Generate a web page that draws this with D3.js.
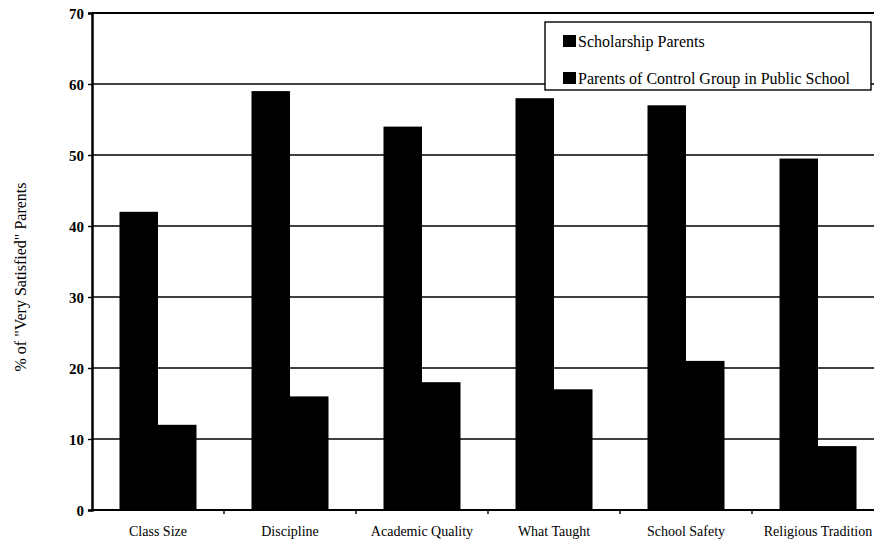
<!DOCTYPE html>
<html>
<head>
<meta charset="utf-8">
<script src="https://cdn.jsdelivr.net/npm/d3@7"></script>
<style>
  html, body { margin: 0; padding: 0; background: #fff; }
  svg { display: block; }
  text { font-family: "Liberation Serif", "Times New Roman", serif; fill: #000; }
</style>
</head>
<body>
<svg id="chart" width="874" height="543"></svg>
<script>
// Share of parents reporting they are "very satisfied", by school aspect
const categories = ["Class Size", "Discipline", "Academic Quality", "What Taught", "School Safety", "Religious Tradition"];
const seriesNames = ["Scholarship Parents", "Parents of Control Group in Public School"];
const scholarship = [42, 59, 54, 58, 57, 49.5];
const controlGroup = [12, 16, 18, 17, 21, 9];
const yTicks = [0, 10, 20, 30, 40, 50, 60, 70];

const svg = d3.select("#chart");
const margin = { left: 92, top: 13, bottom: 33 };
const height = 543;
const plotBottom = height - margin.bottom;
const bandW = 132;

const x = d3.scaleBand()
  .domain(categories)
  .range([margin.left, margin.left + bandW * categories.length])
  .paddingInner(0.4167)
  .paddingOuter(0.2083);

const xSub = d3.scaleBand()
  .domain(seriesNames)
  .range([0, x.bandwidth()]);

const y = d3.scaleLinear().domain([0, 70]).range([plotBottom, margin.top]);

// Horizontal gridlines
svg.append("g")
  .selectAll("line")
  .data(yTicks.filter(d => d > 0))
  .join("line")
  .attr("x1", margin.left)
  .attr("x2", 874)
  .attr("y1", d => y(d))
  .attr("y2", d => y(d))
  .attr("stroke", "#000")
  .attr("stroke-width", d => d === 70 ? 1.8 : 1.4);

// Bars
const rows = categories.map((c, i) => ({ cat: c, values: [scholarship[i], controlGroup[i]] }));
const groups = svg.append("g")
  .selectAll("g")
  .data(rows)
  .join("g")
  .attr("transform", d => `translate(${x(d.cat)},0)`);

groups.selectAll("rect")
  .data(d => d.values.map((v, j) => ({ name: seriesNames[j], v })))
  .join("rect")
  .attr("x", d => xSub(d.name))
  .attr("width", xSub.bandwidth())
  .attr("y", d => y(d.v))
  .attr("height", d => y(0) - y(d.v))
  .attr("fill", "#000");

// Y axis
const yAxis = d3.axisLeft(y).tickValues(yTicks).tickSize(4).tickPadding(4);
const gy = svg.append("g")
  .attr("transform", `translate(${margin.left},0)`)
  .call(yAxis);
gy.attr("font-family", null).attr("font-size", null);
gy.select(".domain").attr("stroke-width", 2.5).attr("stroke", "#000");
gy.selectAll(".tick line").attr("stroke", "#000").attr("stroke-width", 1.4);
gy.selectAll(".tick text")
  .attr("font-size", 15)
  .attr("font-weight", "bold")
  .attr("dy", "0.34em");

// X axis with ticks between groups
const boundaries = d3.range(categories.length + 1).map(i => margin.left + i * bandW);
svg.append("line")
  .attr("x1", margin.left).attr("x2", 874)
  .attr("y1", y(0)).attr("y2", y(0))
  .attr("stroke", "#000").attr("stroke-width", 2);
svg.append("g")
  .selectAll("line")
  .data(boundaries.slice(1))
  .join("line")
  .attr("x1", d => d).attr("x2", d => d)
  .attr("y1", y(0)).attr("y2", y(0) + 4)
  .attr("stroke", "#000").attr("stroke-width", 1.4);

svg.append("g")
  .selectAll("text")
  .data(categories)
  .join("text")
  .attr("x", d => x(d) + x.bandwidth() / 2)
  .attr("y", plotBottom + 26)
  .attr("text-anchor", "middle")
  .attr("font-size", 14)
  .text(d => d);

// Y axis title
svg.append("text")
  .attr("transform", "translate(26,277) rotate(-90)")
  .attr("text-anchor", "middle")
  .attr("font-size", 16)
  .text('% of "Very Satisfied" Parents');

// Legend
const legend = svg.append("g").attr("transform", "translate(545,22)");
legend.append("rect")
  .attr("x", 0).attr("y", 0)
  .attr("width", 326).attr("height", 68)
  .attr("fill", "#fff")
  .attr("stroke", "#000")
  .attr("stroke-width", 1.4);
const items = legend.selectAll("g.item")
  .data(seriesNames)
  .join("g")
  .attr("class", "item")
  .attr("transform", (d, i) => `translate(18,${13 + i * 37})`);
items.append("rect")
  .attr("width", 13).attr("height", 12)
  .attr("fill", "#000");
items.append("text")
  .attr("x", 15)
  .attr("y", 12)
  .attr("font-size", 16)
  .text(d => d);
</script>
</body>
</html>
